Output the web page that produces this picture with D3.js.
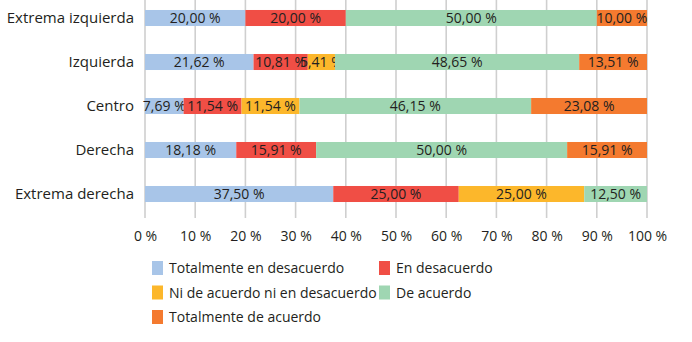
<!DOCTYPE html>
<html>
<head>
<meta charset="utf-8">
<script src="https://cdn.jsdelivr.net/npm/d3@7"></script>
<style>
  body { margin: 0; background: #fff; }
  svg text { font-family: "Open Sans", "Noto Sans", sans-serif; fill: #231f20; }
</style>
</head>
<body>
<div id="chart"></div>
<script>
// Categories (top to bottom) and series
const categories = ['Extrema izquierda', 'Izquierda', 'Centro', 'Derecha', 'Extrema derecha'];
const seriesNames = ['Totalmente en desacuerdo', 'En desacuerdo', 'Ni de acuerdo ni en desacuerdo', 'De acuerdo', 'Totalmente de acuerdo'];
const seriesColors = ['#a8c5e8', '#f04e45', '#fcb72b', '#9fd6b2', '#f47a2f'];

const totDesacuerdo = [20.00, 21.62, 7.69, 18.18, 37.50];
const desacuerdo = [20.00, 10.81, 11.54, 15.91, 25.00];
const neutral = [0, 5.41, 11.54, 0, 25.00];
const deAcuerdo = [50.00, 48.65, 46.15, 50.00, 12.50];
const totAcuerdo = [10.00, 13.51, 23.08, 15.91, 0];

const xTicks = [0, 10, 20, 30, 40, 50, 60, 70, 80, 90, 100];

const width = 692, height = 342;
const svg = d3.select('#chart').append('svg')
  .attr('width', width)
  .attr('height', height);

const x = d3.scaleLinear().domain([0, 100]).range([145, 647]);
const y = d3.scaleBand().domain(categories).range([-4, 216])
  .paddingInner(0.636).paddingOuter(0.318);

const fmt = v => v.toFixed(2).replace('.', ',') + ' %';

// gridlines (behind the bars)
svg.append('g')
  .selectAll('line')
  .data(xTicks)
  .join('line')
  .attr('x1', d => x(d)).attr('x2', d => x(d))
  .attr('y1', 0).attr('y2', 218)
  .attr('stroke', '#cfcfcf')
  .attr('stroke-width', 1.6);

// stack the data
const rows = categories.map((c, i) => ({
  cat: c,
  s0: totDesacuerdo[i], s1: desacuerdo[i], s2: neutral[i], s3: deAcuerdo[i], s4: totAcuerdo[i]
}));
const stack = d3.stack().keys(['s0', 's1', 's2', 's3', 's4']);
const layers = stack(rows);

const layerG = svg.append('g')
  .selectAll('g')
  .data(layers)
  .join('g')
  .attr('fill', (d, i) => seriesColors[i]);

layerG.selectAll('rect')
  .data(d => d.filter(s => s[1] - s[0] > 0))
  .join('rect')
  .attr('x', d => x(d[0]))
  .attr('y', d => y(d.data.cat))
  .attr('width', d => x(d[1]) - x(d[0]))
  .attr('height', y.bandwidth());

// value labels
layerG.selectAll('text')
  .data(d => d.filter(s => s[1] - s[0] > 0))
  .join('text')
  .attr('x', d => (x(d[0]) + x(d[1])) / 2)
  .attr('y', d => y(d.data.cat) + y.bandwidth() / 2)
  .attr('dy', '0.36em')
  .attr('text-anchor', 'middle')
  .style('font-size', '14px')
  .text(d => fmt(d[1] - d[0]));

// category labels
svg.append('g')
  .selectAll('text')
  .data(categories)
  .join('text')
  .attr('x', 134)
  .attr('y', d => y(d) + y.bandwidth() / 2)
  .attr('dy', '0.36em')
  .attr('text-anchor', 'end')
  .style('font-size', '15px')
  .text(d => d);

// x axis tick labels
const xAxis = svg.append('g')
  .attr('transform', 'translate(0,231)')
  .call(d3.axisBottom(x).tickValues(xTicks).tickSize(0).tickPadding(0).tickFormat(d => d + ' %'));
xAxis.select('.domain').remove();
xAxis.selectAll('text')
  .attr('dy', '0.71em')
  .style('font-size', '14px')
  .style('font-family', '"Open Sans", "Noto Sans", sans-serif')
  .attr('fill', '#231f20');

// legend
const legendPos = [[152, 268], [379, 268], [152, 292.5], [379, 292.5], [152, 317]];
const legend = svg.append('g')
  .selectAll('g')
  .data(seriesNames)
  .join('g')
  .attr('transform', (d, i) => `translate(${legendPos[i][0]},${legendPos[i][1]})`);
legend.append('rect')
  .attr('x', 0).attr('y', -7)
  .attr('width', 11).attr('height', 14)
  .attr('fill', (d, i) => seriesColors[i]);
legend.append('text')
  .attr('x', 17)
  .attr('dy', '0.36em')
  .style('font-size', '14px')
  .text(d => d);
</script>
</body>
</html>
